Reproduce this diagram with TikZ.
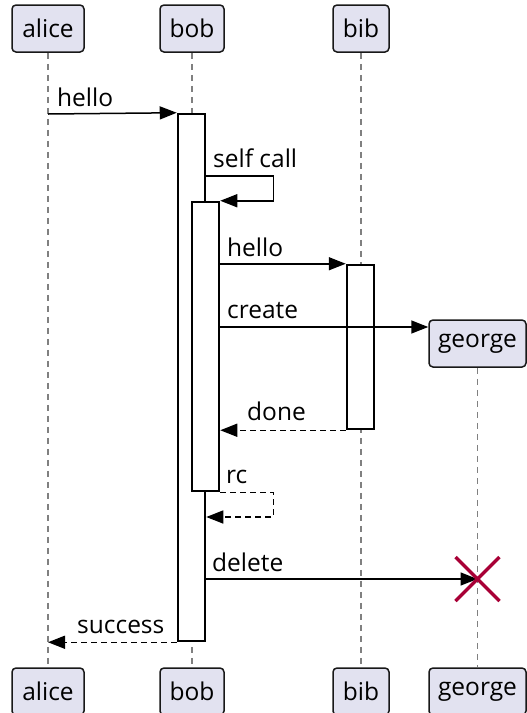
\documentclass[tikz,border=0pt]{standalone}
\usepackage{fontspec}
\setmainfont{Open Sans}
\usetikzlibrary{arrows.meta,calc}
\definecolor{partfill}{HTML}{E2E2F0}
\definecolor{partdraw}{HTML}{181818}
\definecolor{lifegray}{HTML}{808080}
\definecolor{killred}{HTML}{A80036}
\tikzset{
  txt/.style={font=\fontsize{24.5}{29}\selectfont},
  part/.style={txt, draw=partdraw, fill=partfill, line width=1.5pt, rounded corners=4pt,
    minimum height=47pt, inner sep=0pt},
  lifeline/.style={draw=lifegray, line width=1.5pt, dash pattern=on 6pt off 5pt},
  actbar/.style={draw=black, fill=white, line width=2.5pt, inner sep=0pt, minimum width=27pt},
  msg/.style={draw=black, line width=1.5pt, -{Triangle[length=17pt, width=13pt]}},
  reply/.style={msg, dash pattern=on 6pt off 4pt},
  lbl/.style={txt, anchor=base west, inner sep=0pt},
}
\begin{document}
\begin{tikzpicture}[x=1pt, y=-1pt]
  \useasboundingbox (0,0) rectangle (527,713);
  \clip (0,0) rectangle (527,713);

  % participants, top row
  \node[part, minimum width=72pt] (aliceT) at (48,28.5) {alice};
  \node[part, minimum width=64pt] (bobT) at (192,28.5) {bob};
  \node[part, minimum width=56pt] (bibT) at (361,28.5) {bib};
  \node[part, minimum width=97pt] (georgeT) at (477.5,343.5) {george};
  % participants, bottom row
  \node[part, minimum width=72pt] (aliceB) at (48,691.5) {alice};
  \node[part, minimum width=64pt] (bobB) at (192,691.5) {bob};
  \node[part, minimum width=56pt] (bibB) at (361,691.5) {bib};
  \node[part, minimum width=97pt] (georgeB) at (477.5,691.5) {george};

  % lifelines
  \draw[lifeline] (aliceT) -- (aliceB);
  \draw[lifeline] (bobT) -- (bobB);
  \draw[lifeline] (bibT) -- (bibB);
  \draw[lifeline] (georgeT) -- (georgeB);

  % activation bars
  \node[actbar, minimum height=527pt] (bobA) at (191.5,377.5) {};
  \node[actbar, minimum height=289pt] (bobA2) at (205.5,346.5) {};
  \node[actbar, minimum height=164pt] (bibA) at (360.5,347) {};

  % message end points
  \coordinate (aliceHello) at (aliceT.south |- 0,114);
  \coordinate (selfOut) at (bobA.east |- 0,176);
  \coordinate (selfIn) at (bobA2.north east);
  \coordinate (helloOut) at (bobA2.east |- bibA.north);
  \coordinate (createOut) at (bobA2.east |- 0,327);
  \coordinate (createIn) at (georgeT.west |- 0,327);
  \coordinate (doneIn) at (bobA2.east |- bibA.south);
  \coordinate (rcIn) at (bobA.east |- 0,517);
  \coordinate (deleteOut) at (bobA.east |- 0,579);
  \coordinate (georgeEnd) at (georgeT.south |- 0,579);
  \coordinate (successOut) at (bobA.south west);
  \coordinate (successIn) at (aliceT.south |- bobA.south);

  % messages
  \draw[msg] (aliceHello) -- (bobA.north west);
  \node[lbl] (lHello) at (57,106) {hello};

  \draw[msg] (selfOut) -- ++(67,0) |- (selfIn);
  \node[lbl] (lSelf) at (213,167) {self call};

  \draw[msg] (helloOut) -- (bibA.north west);
  \node[lbl] (lHello2) at (227,256) {hello};

  \draw[msg] (createOut) -- (createIn);
  \node[lbl] (lCreate) at (227,318) {create};

  \draw[reply] (bibA.south west) -- (doneIn);
  \node[lbl] (lDone) at (247,420) {done};

  \draw[reply] (bobA2.south east) -- ++(53,0) |- (rcIn);
  \node[lbl] (lRc) at (226,483) {rc};

  \draw[msg] (deleteOut) -- (georgeEnd);
  \node[lbl] (lDelete) at (212,571) {delete};

  \draw[reply] (successOut) -- (successIn);
  \node[lbl] (lSuccess) at (77,633) {success};

  % destruction mark on george's lifeline
  \draw[killred, line width=3.5pt] ($(georgeEnd)+(-22,-22)$) -- ($(georgeEnd)+(22,22)$)
    ($(georgeEnd)+(-22,22)$) -- ($(georgeEnd)+(22,-22)$);
\end{tikzpicture}
\end{document}
